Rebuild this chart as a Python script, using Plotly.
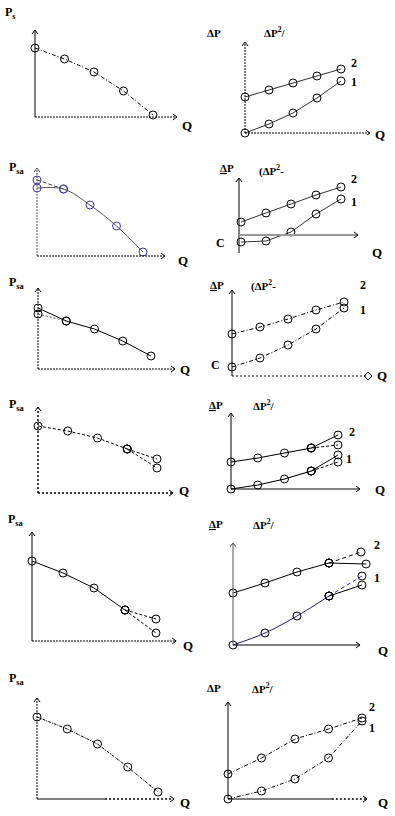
import plotly.graph_objects as go

W, H = 395, 816

# ---------------- data (P in 10-px units) ----------------
Q = [0, 1, 2, 3, 4]
Q4 = [0, 1, 2, 3]

ps_1 = [6.9, 5.8, 4.5, 2.6, 0.2]
dp2_1 = [3.6, 4.3, 5.0, 5.7, 6.4]
dp1_1 = [0.0, 0.9, 2.0, 3.5, 5.2]

psa_2 = [6.8, 6.7, 5.1, 3.0, 0.4]
psa_2_start = [7.6, 6.7]
dp2_2 = [1.3, 2.2, 3.1, 4.0, 4.8]
dp1_2 = [-0.7, -0.6, 0.3, 2.1, 3.6]

psa_3 = [6.1, 4.8, 4.0, 2.8, 1.3]
psa_3_start = [5.5, 4.8]
dp2_3 = [4.2, 4.9, 5.7, 6.6, 7.4]
dp1_3 = [0.9, 1.8, 3.1, 4.7, 6.8]

psa_4 = [6.7, 6.2, 5.5, 4.4]
psa_4_ends = [3.4, 2.5]
dp2_4 = [2.7, 3.1, 3.6, 4.1]
dp2_4_ends = [5.4, 4.4]
dp1_4 = [0.0, 0.4, 1.0, 1.8]
dp1_4_ends = [3.4, 2.7]

psa_5 = [8.0, 6.8, 5.3, 3.1]
psa_5_ends = [2.2, 0.8]
dp2_5 = [5.2, 6.2, 7.3, 8.2]
dp2_5_ends = [9.3, 8.1]
dp2_5_endQ = [4.0, 4.16]
dp1_5 = [0.0, 1.2, 2.9, 4.9]
dp1_5_ends = [6.9, 6.0]
dp1_5_endQ = [4.03, 4.03]

psa_6 = [8.2, 7.0, 5.5, 3.2, 0.7]
dp2_6 = [2.5, 4.1, 6.0, 7.0, 8.1]
dp1_6 = [0.0, 0.8, 2.0, 4.1, 7.8]

# ---------------- panel geometry ----------------
PANELS = {
    1: dict(cell=(0, 197, 0, 135), o=(35, 117), pxq=29.5, xend=4.81, ytop=8.7,
            ydash='solid', xdash='2px,1px'),
    2: dict(cell=(197, 395, 0, 135), o=(245, 133), pxq=24, xend=5.2, ytop=9.1,
            ydash='2px,1px', xdash='2px,1px'),
    3: dict(cell=(0, 197, 135, 270), o=(37, 256), pxq=26.5, xend=4.83, ytop=8.8,
            ydash='2px,1px', xdash='2px,1px', ycol='#555'),
    4: dict(cell=(197, 395, 135, 270), o=(241, 235), pxq=25, xend=4.68, ytop=5.7,
            ybot=-1.8, yq=-0.08, ydash='solid', xdash='solid', xcol='#999', xw=2),
    5: dict(cell=(0, 197, 270, 390), o=(38, 369), pxq=28.25, xend=4.85, ytop=8.1,
            ydash='2px,1px', xdash='2px,1px'),
    6: dict(cell=(197, 395, 270, 390), o=(232, 376), pxq=28, xend=4.86, ytop=8.6,
            ydash='solid', xdash='2px,2px', diamond=True),
    7: dict(cell=(0, 197, 390, 505), o=(38, 493), pxq=29.75, xend=4.54, ytop=8.6,
            ydash='2px,2px', xdash='2px,2px', yw=1.5, xw=1.5),
    8: dict(cell=(197, 395, 390, 505), o=(231, 489), pxq=26.75, xend=4.82, ytop=7.6,
            ydash='solid', xdash='solid'),
    9: dict(cell=(0, 197, 505, 655), o=(32, 641), pxq=31, xend=4.65, ytop=10.9,
            ydash='solid', xdash='2px,1px'),
    10: dict(cell=(197, 395, 505, 655), o=(233, 645), pxq=32, xend=3.97, ytop=10.2,
             ydash='solid', xdash='solid', ycol='#555'),
    11: dict(cell=(0, 197, 655, 816), o=(37, 799), pxq=30.25, xend=4.53, ytop=10.1,
             ydash='2px,1px', xdash='2px,2px', xsolid=2.25),
    12: dict(cell=(197, 395, 655, 816), o=(228, 799), pxq=33.5, xend=4.15, ytop=9.7,
             ydash='solid', xdash='2px,2px', xsolid=3.1),
}

fig = go.Figure()


def refs(n):
    return ('x' if n == 1 else f'x{n}'), ('y' if n == 1 else f'y{n}')


def axis_key(n):
    return ('xaxis' if n == 1 else f'xaxis{n}'), ('yaxis' if n == 1 else f'yaxis{n}')


CHEV_X = 'M -4,-3 L 0,0 L -4,3'
CHEV_Y = 'M -3,-4 L 0,0 L 3,-4'

for n, c in PANELS.items():
    L, R, T, B = c['cell']
    ox, oy = c['o']
    kx, ky = axis_key(n)
    xr, yr = refs(n)
    fig.layout[kx] = dict(domain=[L / W, R / W], range=[(L - ox) / c['pxq'], (R - ox) / c['pxq']],
                          visible=False, fixedrange=True, anchor=yr)
    fig.layout[ky] = dict(domain=[1 - B / H, 1 - T / H], range=[(oy - B) / 10, (oy - T) / 10],
                          visible=False, fixedrange=True, anchor=xr)
    yq = c.get('yq', 0)
    ybot = c.get('ybot', 0)
    ycol = c.get('ycol', 'black')
    xcol = c.get('xcol', 'black')
    # y axis
    fig.add_shape(type='line', xref=xr, yref=yr, x0=yq, x1=yq, y0=ybot, y1=c['ytop'],
                  line=dict(color=ycol, width=c.get('yw', 1), dash=c['ydash']))
    fig.add_shape(type='path', xref=xr, yref=yr, xsizemode='pixel', ysizemode='pixel',
                  xanchor=yq, yanchor=c['ytop'], path=CHEV_Y,
                  line=dict(color=ycol, width=1))
    # x axis
    if 'xsolid' in c:
        fig.add_shape(type='line', xref=xr, yref=yr, x0=yq, x1=c['xsolid'], y0=0, y1=0,
                      line=dict(color=xcol, width=1.2, dash='solid'))
        fig.add_shape(type='line', xref=xr, yref=yr, x0=c['xsolid'], x1=c['xend'], y0=0, y1=0,
                      line=dict(color=xcol, width=1.5, dash=c['xdash']))
    else:
        fig.add_shape(type='line', xref=xr, yref=yr, x0=yq, x1=c['xend'], y0=0, y1=0,
                      line=dict(color=xcol, width=c.get('xw', 1), dash=c['xdash']))
    if c.get('diamond'):
        fig.add_trace(go.Scatter(x=[c['xend']], y=[0], xaxis=xr, yaxis=yr, mode='markers',
                                 marker=dict(symbol='diamond-open', size=6, color='black',
                                             line=dict(width=1)),
                                 cliponaxis=False, hoverinfo='skip', showlegend=False))
    else:
        fig.add_shape(type='path', xref=xr, yref=yr, xsizemode='pixel', ysizemode='pixel',
                      xanchor=c['xend'], yanchor=0, path=CHEV_X,
                      line=dict(color='black', width=1))


def curve(n, x, y, dash='solid', color='black', width=1, markers=True, shape='linear',
          mcolor='black'):
    xr, yr = refs(n)
    fig.add_trace(go.Scatter(
        x=x, y=y, xaxis=xr, yaxis=yr, mode='lines+markers' if markers else 'lines',
        line=dict(color=color, width=width, dash=dash, shape=shape),
        marker=dict(symbol='circle-open', size=8, color=mcolor, line=dict(width=1)),
        cliponaxis=False, hoverinfo='skip', showlegend=False))


DD = '4px,2px,1px,2px'
# panel 1
curve(1, Q, ps_1, dash=DD)
# panel 2
curve(2, Q, dp2_1, color='#333')
curve(2, Q, dp1_1, color='#333')
# panel 3
curve(3, Q4[:2], psa_2_start, dash='4px,2px', color='#444', markers=True, mcolor='#3a3aa8')
curve(3, Q, psa_2, color='#555', shape='spline', mcolor='#3a3aa8')
# panel 4
curve(4, Q, dp2_2, color='#333')
curve(4, Q, dp1_2, color='#333')
# panel 5
curve(5, Q4[:2], psa_3_start, dash='2px,2px', color='#555')
curve(5, Q, psa_3)
# panel 6
curve(6, Q, dp2_3, dash=DD)
curve(6, Q, dp1_3, dash=DD)
# panel 7
curve(7, Q4, psa_4, dash='3px,2px')
for e in psa_4_ends:
    curve(7, [3, 4], [psa_4[-1], e], dash='3px,2px')
# panel 8
curve(8, Q4, dp2_4, width=1.2)
curve(8, [3, 4], [dp2_4[-1], dp2_4_ends[0]])
curve(8, [3, 4], [dp2_4[-1], dp2_4_ends[1]], dash='3px,2px')
curve(8, Q4, dp1_4, width=1.2)
curve(8, [3, 4], [dp1_4[-1], dp1_4_ends[0]])
curve(8, [3, 4], [dp1_4[-1], dp1_4_ends[1]], dash='3px,2px')
# panel 9
curve(9, Q4, psa_5)
for e in psa_5_ends:
    curve(9, [3, 4], [psa_5[-1], e], dash='3px,2px')
# panel 10
curve(10, Q4, dp2_5)
curve(10, [3, dp2_5_endQ[0]], [dp2_5[-1], dp2_5_ends[0]], dash='4px,3px')
curve(10, [3, dp2_5_endQ[1]], [dp2_5[-1], dp2_5_ends[1]])
curve(10, Q4, dp1_5, color='#1f1f5c', shape='spline')
curve(10, [3, dp1_5_endQ[0]], [dp1_5[-1], dp1_5_ends[0]], dash='4px,3px', color='#3030c0')
curve(10, [3, dp1_5_endQ[1]], [dp1_5[-1], dp1_5_ends[1]])
# panel 11
curve(11, Q, psa_6, dash='3px,1px,1px,1px')
# panel 12
curve(12, Q, dp2_6, dash=DD)
curve(12, Q, dp1_6, dash=DD)

# ---------------- text labels ----------------
FONT = 'Liberation Serif, Times New Roman, serif'
labels = [
    ('P<sub>s</sub>', 10, 13, 12), ('Q', 187, 125, 13), ('ΔP', 214, 33, 11),
    ('ΔP<sup>2</sup>/', 274, 32, 11), ('2', 354, 63, 12), ('1', 354, 82, 12), ('Q', 380, 135, 13),

    ('P<sub>sa</sub>', 17, 168, 12), ('Q', 183, 260, 13), ('<u>Δ</u>P', 227, 168, 11),
    ('(ΔP<sup>2</sup>-', 271, 170, 11), ('2', 354, 179, 12), ('1', 354, 202, 12),
    ('C', 220, 243, 12), ('Q', 377, 252, 13),

    ('P<sub>sa</sub>', 17, 283, 12), ('Q', 185, 370, 13), ('<u>Δ</u>P', 217, 285, 11),
    ('(ΔP<sup>2</sup>-', 263, 285, 11), ('2', 363, 285, 12), ('1', 363, 310, 12),
    ('C', 215, 365, 12), ('Q', 382, 376, 13),

    ('P<sub>sa</sub>', 17, 405, 12), ('Q', 184, 490, 13), ('<u>Δ</u>P', 216, 405, 11),
    ('ΔP<sup>2</sup>/', 263, 405, 11), ('2', 352, 432, 12), ('1', 349, 459, 12),
    ('Q', 380, 489, 13),

    ('P<sub>sa</sub>', 16, 520, 12), ('Q', 188, 645, 13), ('<u>Δ</u>P', 216, 524, 11),
    ('ΔP<sup>2</sup>/', 263, 524, 11), ('2', 377, 545, 12), ('1', 377, 578, 12),
    ('Q', 383, 650, 13),

    ('P<sub>sa</sub>', 17, 679, 12), ('Q', 185, 802, 13), ('ΔP', 214, 688, 11),
    ('ΔP<sup>2</sup>/', 262, 688, 11), ('2', 372, 707, 12), ('1', 372, 728, 12),
    ('Q', 383, 802, 13),
]
for txt, px, py, sz in labels:
    fig.add_annotation(text=f'<b>{txt}</b>', x=px / W, y=1 - py / H, xref='paper', yref='paper',
                       xanchor='center', yanchor='middle', showarrow=False,
                       font=dict(family=FONT, size=sz, color='black'))

fig.update_layout(width=W, height=H, margin=dict(l=0, r=0, t=0, b=0),
                  paper_bgcolor='white', plot_bgcolor='rgba(0,0,0,0)', showlegend=False)
fig.write_html('out.html', config={'displayModeBar': False},
               post_script="document.body.style.margin='0';document.body.style.overflow='hidden';")
